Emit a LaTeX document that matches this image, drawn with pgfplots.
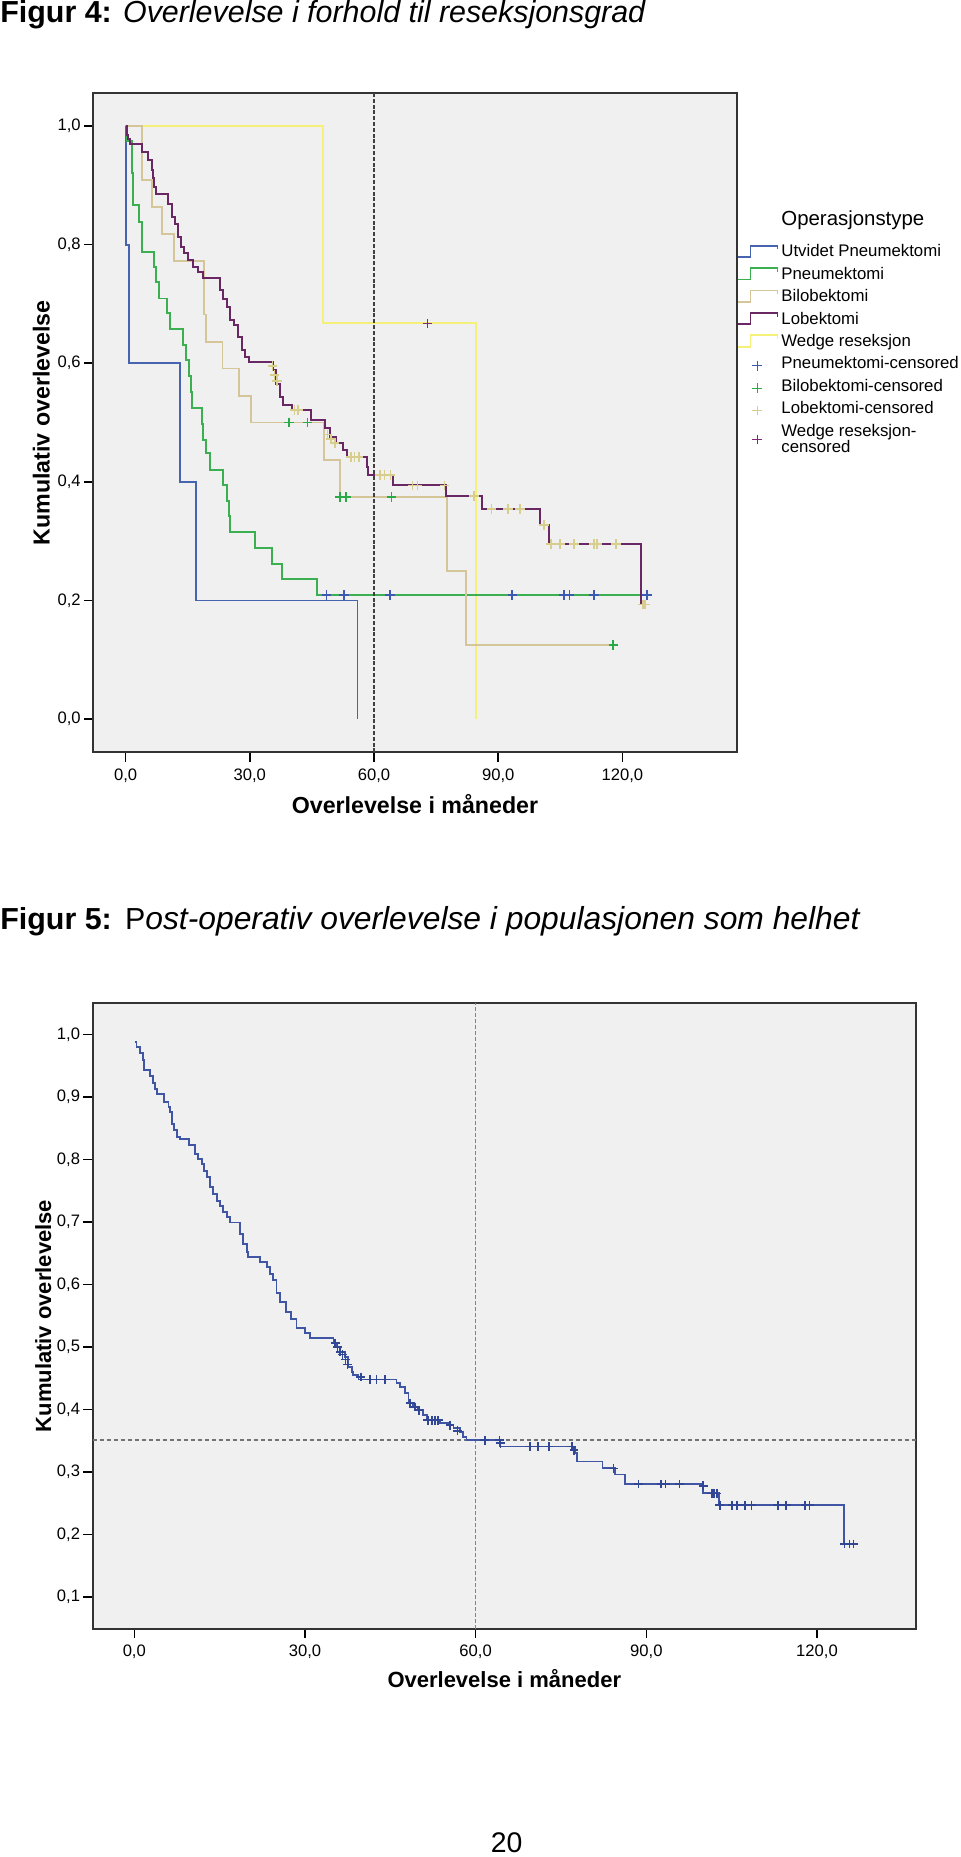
\documentclass[border=0pt]{standalone}
\usepackage{pgfplots}
\pgfplotsset{compat=1.18}
\usepackage{pgfplotstable}
\usepackage{fontspec}
\setmainfont{Liberation Sans}
\definecolor{bgc}{RGB}{240,240,240}
\definecolor{cUtv}{RGB}{70,100,175}
\definecolor{cPne}{RGB}{60,175,80}
\definecolor{cBil}{RGB}{212,198,152}
\definecolor{cLob}{RGB}{105,40,100}
\definecolor{cWed}{RGB}{245,240,120}
\definecolor{mPne}{RGB}{60,90,175}
\definecolor{mBil}{RGB}{40,170,70}
\definecolor{mLob}{RGB}{215,205,140}
\definecolor{mWed}{RGB}{130,40,120}
\definecolor{cAll}{RGB}{65,85,165}
\definecolor{mAll}{RGB}{50,70,150}
\definecolor{cRed}{RGB}{225,90,100}

% ---------- Figur 4 data ----------
\pgfplotstableread{
t v
0 1
0.2 0.8
0.8 0.6
13.1 0.4
16.9 0.2
56.0 0.0
}\utv
\pgfplotstableread{
t v
0 1
0.3 0.974
1.5 0.92
1.8 0.866
3.2 0.838
4.0 0.787
6.8 0.762
7.3 0.737
8.0 0.709
9.9 0.684
10.7 0.657
13.8 0.630
14.5 0.605
15.3 0.579
15.7 0.552
16.0 0.524
18.4 0.497
18.8 0.470
19.5 0.448
20.3 0.420
23.6 0.394
24.5 0.368
24.9 0.342
25.2 0.316
31.2 0.289
35.3 0.262
37.7 0.236
46.3 0.209
126.0 0.209
}\pne
\pgfplotstableread{
t v
0 1
3.9 0.909
6.3 0.864
8.7 0.818
11.7 0.773
19.0 0.682
19.5 0.636
23.4 0.591
27.4 0.545
30.2 0.500
48.0 0.437
51.8 0.374
77.7 0.250
82.2 0.125
117.8 0.125
}\bil
\pgfplotstableread{
t v
0 1.0
0.3 0.985
0.6 0.978
1.0 0.970
3.86 0.956
5.47 0.942
6.27 0.925
6.6 0.912
6.84 0.897
7.3 0.886
10.3 0.869
11.3 0.846
11.9 0.835
12.7 0.813
13.5 0.796
14.08 0.785
15.1 0.774
16.3 0.763
17.5 0.754
18.6 0.743
22.8 0.723
23.6 0.709
24.4 0.695
25.2 0.673
26.1 0.664
27.2 0.644
28.0 0.622
28.8 0.611
29.8 0.602
35.6 0.588
36.4 0.565
37.3 0.543
38.1 0.529
40.1 0.521
44.9 0.504
48.1 0.490
49.3 0.476
50.9 0.465
52.5 0.453
53.4 0.442
58.2 0.425
58.6 0.411
64.6 0.394
77.4 0.376
86.2 0.354
100.1 0.327
102.3 0.295
124.6 0.195
125.2 0.195
}\lob
\pgfplotstableread{
t v
0 1
47.7 0.667
84.6 0.0
}\wed
\pgfplotstableread{
t v
48.5 0.209
52.8 0.209
63.9 0.209
93.4 0.209
105.9 0.209
107.2 0.209
113.1 0.209
126.0 0.209
}\mpne
\pgfplotstableread{
t v
39.5 0.500
43.9 0.500
51.8 0.374
53.2 0.374
64.2 0.374
117.8 0.125
}\mbil
\pgfplotstableread{
t v
35.5 0.595
36.0 0.580
36.5 0.570
40.8 0.521
41.6 0.521
48.8 0.480
49.6 0.472
50.5 0.465
54.5 0.442
55.3 0.442
56.3 0.442
61.5 0.411
62.5 0.411
64.0 0.411
69.3 0.394
70.5 0.394
77.0 0.394
84.2 0.376
88.4 0.354
92.4 0.354
95.2 0.354
101.0 0.327
102.8 0.295
104.9 0.295
108.3 0.295
113.1 0.295
113.9 0.295
118.4 0.295
124.9 0.193
125.5 0.193
}\mlob
\pgfplotstableread{
t v
72.9 0.667
}\mwed

% ---------- Figur 5 data ----------
\pgfplotstableread{
t v
0.1 0.988
0.4 0.980
1.0 0.970
1.5 0.959
1.7 0.943
2.76 0.934
3.34 0.922
3.6 0.913
3.93 0.905
5.2 0.892
6.0 0.884
6.27 0.876
6.56 0.857
6.97 0.847
7.44 0.836
8.0 0.833
9.67 0.823
10.67 0.809
11.26 0.801
11.84 0.793
12.25 0.782
12.72 0.772
13.3 0.756
13.9 0.745
14.5 0.734
15.1 0.726
15.65 0.716
16.24 0.708
16.8 0.699
18.6 0.681
19.16 0.665
19.75 0.652
20.0 0.644
22.1 0.636
23.3 0.628
23.8 0.617
24.4 0.607
25.0 0.586
25.6 0.572
26.6 0.556
27.5 0.545
28.5 0.530
30.0 0.522
30.9 0.514
35.0 0.506
35.6 0.500
36.1 0.492
37.0 0.484
37.6 0.468
38.2 0.460
38.5 0.455
39.4 0.448
46.1 0.442
46.7 0.436
47.6 0.426
48.2 0.410
49.0 0.404
49.9 0.399
50.8 0.391
51.4 0.383
53.7 0.378
55.2 0.375
56.1 0.370
57.2 0.364
57.8 0.356
58.4 0.351
64.3 0.341
77.4 0.330
77.8 0.317
82.3 0.306
84.5 0.296
86.2 0.281
100.0 0.266
102.8 0.247
124.8 0.185
126.4 0.185
}\alldata
\pgfplotstableread{
t v
35.3 0.506
35.7 0.500
36.2 0.492
36.6 0.488
37.1 0.480
37.5 0.472
39.8 0.452
41.4 0.448
42.6 0.448
44.1 0.448
48.5 0.410
49.3 0.404
50.0 0.399
51.6 0.383
52.3 0.383
52.9 0.383
53.4 0.383
55.5 0.375
56.8 0.366
61.6 0.351
64.2 0.351
64.4 0.346
69.5 0.341
71.0 0.341
72.9 0.341
76.9 0.341
77.3 0.335
84.2 0.306
88.6 0.281
92.6 0.281
93.4 0.281
95.8 0.281
100.0 0.278
101.5 0.266
101.9 0.266
102.4 0.266
102.9 0.247
105.1 0.247
105.9 0.247
107.3 0.247
108.5 0.247
113.1 0.247
114.6 0.247
117.9 0.247
118.7 0.247
124.8 0.185
125.7 0.185
126.4 0.185
}\allcens

\pgfplotsset{
  kmaxis/.style={
    scale only axis,
    axis background/.style={fill=bgc},
    axis line style={draw=black!80, line width=0.9pt},
    tick align=outside,
    xtick pos=bottom, ytick pos=left,
    major tick length=4.6pt,
    tick style={black, line width=0.75pt},
    xtick={0,30,60,90,120},
    tick label style={font=\fontsize{8.3}{10}\selectfont},
    yticklabel style={xshift=1.8pt},
    /pgf/number format/.cd, fixed, fixed zerofill, precision=1, use comma, assume math mode=true,
    /pgfplots/.cd,
  },
  steplegend/.style={legend image code/.code={%
    \draw[##1] (0pt,-1.1pt) -- (6.5pt,-1.1pt) -- (6.5pt,4.6pt) -- (20pt,4.6pt) -- (20pt,2.8pt);}},
  marklegend/.style={legend image code/.code={%
    \draw[mark repeat=2,mark phase=2,##1] plot coordinates {(0pt,0.6pt) (9.8pt,0.6pt) (19.6pt,0.6pt)};}},
  marklegenddown/.style={legend image code/.code={%
    \draw[mark repeat=2,mark phase=2,##1] plot coordinates {(0pt,-2.6pt) (9.8pt,-2.6pt) (19.6pt,-2.6pt)};}},
}

\begin{document}
\begin{tikzpicture}
\useasboundingbox (0,0) rectangle (480pt,-928.5pt);

% ---------------- Figur 4 ----------------
\node[anchor=base west, inner sep=0pt] at (0pt,-11.5pt)
  {\fontsize{15.2}{18}\selectfont\textbf{Figur 4:} \textit{Overlevelse i forhold til reseksjonsgrad}};

\begin{axis}[kmaxis,
  at={(46.65pt,-376.15pt)}, anchor=south west,
  width=321.7pt, height=329.5pt,
  xmin=-7.8, xmax=147.6, ymin=-0.056, ymax=1.055,
  ytick={0,0.2,0.4,0.6,0.8,1.0},
  legend cell align=left,
  legend style={draw=none, fill=none, at={(1,1)}, anchor=north west,
    yshift=-64pt, inner sep=0pt, outer sep=0pt, row sep=0pt, column sep=1.5pt,
    font=\fontsize{8.4}{10}\selectfont,
    nodes={inner sep=0pt, text height=6.6pt, text depth=4.6pt}},
]
\addplot[cWed, line width=0.95pt, const plot, forget plot] table[x=t,y=v] {\wed};
\addplot[cUtv, line width=0.95pt, const plot, forget plot] table[x=t,y=v] {\utv};
\addplot[cPne, line width=0.95pt, const plot, forget plot] table[x=t,y=v] {\pne};
\addplot[cBil, line width=0.95pt, const plot, forget plot] table[x=t,y=v] {\bil};
\addplot[cLob, line width=1pt, const plot, forget plot] table[x=t,y=v] {\lob};
\addplot[black!75, line width=1.1pt, dash pattern=on 2pt off 0.9pt, forget plot] coordinates {(60,-0.056) (60,1.055)};
\addplot[only marks, mark=+, mark size=2.4pt, mPne, mark options={line width=0.85pt}, forget plot] table[x=t,y=v] {\mpne};
\addplot[only marks, mark=+, mark size=2.4pt, mBil, mark options={line width=0.85pt}, forget plot] table[x=t,y=v] {\mbil};
\addplot[only marks, mark=+, mark size=2.4pt, mLob, mark options={line width=0.85pt}, forget plot] table[x=t,y=v] {\mlob};
\addplot[only marks, mark=+, mark size=2.4pt, mWed, mark options={line width=0.85pt}, forget plot] table[x=t,y=v] {\mwed};

\addlegendimage{empty legend}
\addlegendentry{\raisebox{4.7pt}{\fontsize{10.2}{11}\selectfont Operasjonstype}}
\addlegendimage{cUtv, line width=0.85pt, steplegend}
\addlegendentry{Utvidet Pneumektomi}
\addlegendimage{cPne, line width=0.85pt, steplegend}
\addlegendentry{Pneumektomi}
\addlegendimage{cBil, line width=0.85pt, steplegend}
\addlegendentry{Bilobektomi}
\addlegendimage{cLob, line width=0.85pt, steplegend}
\addlegendentry{Lobektomi}
\addlegendimage{cWed, line width=0.85pt, steplegend}
\addlegendentry{Wedge reseksjon}
\addlegendimage{only marks, mark=+, mark size=2.4pt, mPne, marklegend}
\addlegendentry{Pneumektomi-censored}
\addlegendimage{only marks, mark=+, mark size=2.4pt, mBil, marklegend}
\addlegendentry{Bilobektomi-censored}
\addlegendimage{only marks, mark=+, mark size=2.4pt, mLob, marklegend}
\addlegendentry{Lobektomi-censored}
\addlegendimage{only marks, mark=+, mark size=2.4pt, mWed, marklegenddown}
\addlegendentry{Wedge reseksjon-}
\addlegendimage{empty legend}
\addlegendentry{\raisebox{3pt}{censored}}
\end{axis}

\node[rotate=90, anchor=base, inner sep=0pt] at (24.75pt,-211.4pt)
  {\fontsize{11.6}{13}\selectfont\bfseries Kumulativ overlevelse};
\node[anchor=base, inner sep=0pt] at (207.5pt,-406.5pt)
  {\fontsize{11.6}{13}\selectfont\bfseries Overlevelse i måneder};

% ---------------- Figur 5 ----------------
\node[anchor=base west, inner sep=0pt] at (0pt,-464.5pt)
  {\fontsize{15.2}{18}\selectfont\textbf{Figur 5:}\hspace{1pt} P\fontsize{15.9}{18}\selectfont\textit{ost-operativ overlevelse i populasjonen som helhet}};

\begin{axis}[kmaxis,
  at={(46.35pt,-814.5pt)}, anchor=south west,
  width=411.65pt, height=312.85pt,
  xmin=-7.31, xmax=137.4, ymin=0.049, ymax=1.0496,
  ytick={0.1,0.2,0.3,0.4,0.5,0.6,0.7,0.8,0.9,1.0},
]
\addplot[black!55, line width=0.7pt, dash pattern=on 2pt off 1.5pt] coordinates {(-7.31,0.351) (137.4,0.351)};
\addplot[cRed, line width=0.65pt, dash pattern=on 2pt off 1pt] coordinates {(60,0.049) (60,1.0496)};
\addplot[cAll, line width=0.9pt, const plot] table[x=t,y=v] {\alldata};
\addplot[only marks, mark=+, mark size=2.2pt, mAll, mark options={line width=0.8pt}] table[x=t,y=v] {\allcens};
\end{axis}

\node[rotate=90, anchor=base, inner sep=0pt] at (25.5pt,-658pt)
  {\fontsize{11}{13}\selectfont\bfseries Kumulativ overlevelse};
\node[anchor=base, inner sep=0pt] at (252.15pt,-843.5pt)
  {\fontsize{11}{13}\selectfont\bfseries Overlevelse i måneder};

\node[anchor=base, inner sep=0pt] at (253.35pt,-926.3pt)
  {\fontsize{14.2}{17}\selectfont 20};
\end{tikzpicture}
\end{document}
